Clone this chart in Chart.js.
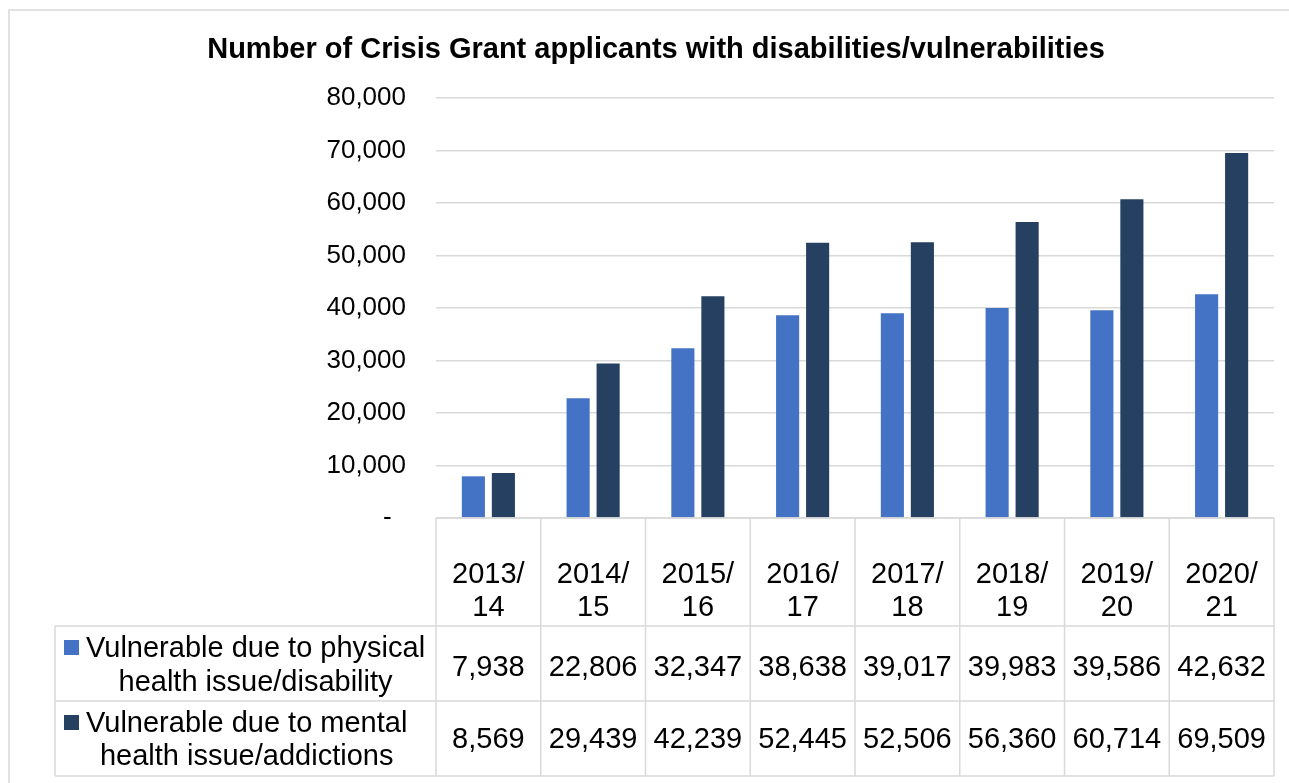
<!DOCTYPE html>
<html>
<head>
<meta charset="utf-8">
<script src="https://cdn.jsdelivr.net/npm/chart.js@4/dist/chart.umd.min.js"></script>
<style>
  html, body { margin: 0; padding: 0; background: #fff; }
  #wrap { width: 1289px; height: 783px; }
</style>
</head>
<body>
<div id="wrap">
  <canvas id="myChart" width="1289" height="783"></canvas>
</div>
<script>
  // financial years, split over two lines like the table header
  const years = [
    ['2013/', '14'], ['2014/', '15'], ['2015/', '16'], ['2016/', '17'],
    ['2017/', '18'], ['2018/', '19'], ['2019/', '20'], ['2020/', '21']
  ];
  const physicalLabel = ['Vulnerable due to physical', 'health issue/disability'];
  const mentalLabel = ['Vulnerable due to mental', 'health issue/addictions'];
  const physical = [7938, 22806, 32347, 38638, 39017, 39983, 39586, 42632];
  const mental = [8569, 29439, 42239, 52445, 52506, 56360, 60714, 69509];
  const yTicks = [0, 10000, 20000, 30000, 40000, 50000, 60000, 70000, 80000];

  const FONT = "'Liberation Sans', Arial, sans-serif";
  const LINE = '#d9d9d9';
  const BLUE = '#4472c4';
  const NAVY = '#264062';

  const fmt = v => v.toLocaleString('en-US');

  // title, outer frame and the data table underneath the bars
  const tablePlugin = {
    id: 'dataTable',
    afterDraw(chart) {
      const c = chart.ctx;
      const xs = chart.scales.x;
      const area = chart.chartArea;
      const n = years.length;
      const step = (area.right - area.left) / n;
      const rowTops = [area.bottom, 626, 701, 776];

      c.save();
      // frame
      c.strokeStyle = LINE;
      c.lineWidth = 1.5;
      c.beginPath();
      c.moveTo(9, 783); c.lineTo(9, 10); c.lineTo(1289, 10);
      c.stroke();

      // title
      c.fillStyle = '#000';
      c.font = 'bold 29px ' + FONT;
      c.textAlign = 'center';
      c.textBaseline = 'alphabetic';
      c.fillText('Number of Crisis Grant applicants with disabilities/vulnerabilities', 656, 58);

      // grid of the table
      c.beginPath();
      c.moveTo(area.left, rowTops[0]); c.lineTo(area.right, rowTops[0]);
      for (let r = 1; r < rowTops.length; r++) {
        c.moveTo(55, rowTops[r]); c.lineTo(area.right, rowTops[r]);
      }
      for (let i = 0; i <= n; i++) {
        const x = area.left + i * step;
        c.moveTo(x, rowTops[0]); c.lineTo(x, rowTops[3]);
      }
      c.moveTo(55, rowTops[1]); c.lineTo(55, rowTops[3]);
      c.stroke();

      // header and values
      c.font = '29px ' + FONT;
      c.fillStyle = '#000';
      years.forEach((lines, i) => {
        const x = xs.getPixelForValue(i);
        c.fillText(lines[0], x, 583);
        c.fillText(lines[1], x, 616);
        c.fillText(fmt(physical[i]), x, 676);
        c.fillText(fmt(mental[i]), x, 748);
      });

      // series names with their colour keys
      const rows = [
        { lines: physicalLabel, color: BLUE, base: [657, 691], key: 640 },
        { lines: mentalLabel, color: NAVY, base: [732, 765], key: 715 }
      ];
      rows.forEach(row => {
        const w = Math.max(...row.lines.map(t => c.measureText(t).width));
        const mid = 86 + w / 2;
        row.lines.forEach((t, k) => c.fillText(t, mid, row.base[k]));
        c.fillStyle = row.color;
        c.fillRect(64, row.key, 15, 15);
        c.fillStyle = '#000';
      });
      c.restore();
    }
  };

  const ctx = document.getElementById('myChart');
  new Chart(ctx, {
    type: 'bar',
    data: {
      labels: years.map(y => y.join('')),
      datasets: [
        { label: physicalLabel.join(' '), data: physical, backgroundColor: BLUE },
        { label: mentalLabel.join(' '), data: mental, backgroundColor: NAVY }
      ]
    },
    options: {
      responsive: false,
      animation: false,
      layout: { padding: { left: 0, right: 15, top: 98, bottom: 265 } },
      datasets: { bar: { categoryPercentage: 0.573, barPercentage: 0.77 } },
      plugins: { legend: { display: false }, tooltip: { enabled: false }, title: { display: false } },
      scales: {
        x: { display: false },
        y: {
          min: 0,
          max: 80000,
          afterFit(scale) { scale.width = 436; },
          afterBuildTicks(scale) { scale.ticks = yTicks.map(v => ({ value: v })); },
          border: { display: false },
          grid: { color: LINE, lineWidth: 1.5, drawTicks: false },
          ticks: {
            padding: 30,
            color: '#000',
            font: { family: FONT, size: 26 },
            callback: v => v === 0 ? '-  ' : fmt(v)
          }
        }
      }
    },
    plugins: [tablePlugin]
  });
</script>
</body>
</html>
